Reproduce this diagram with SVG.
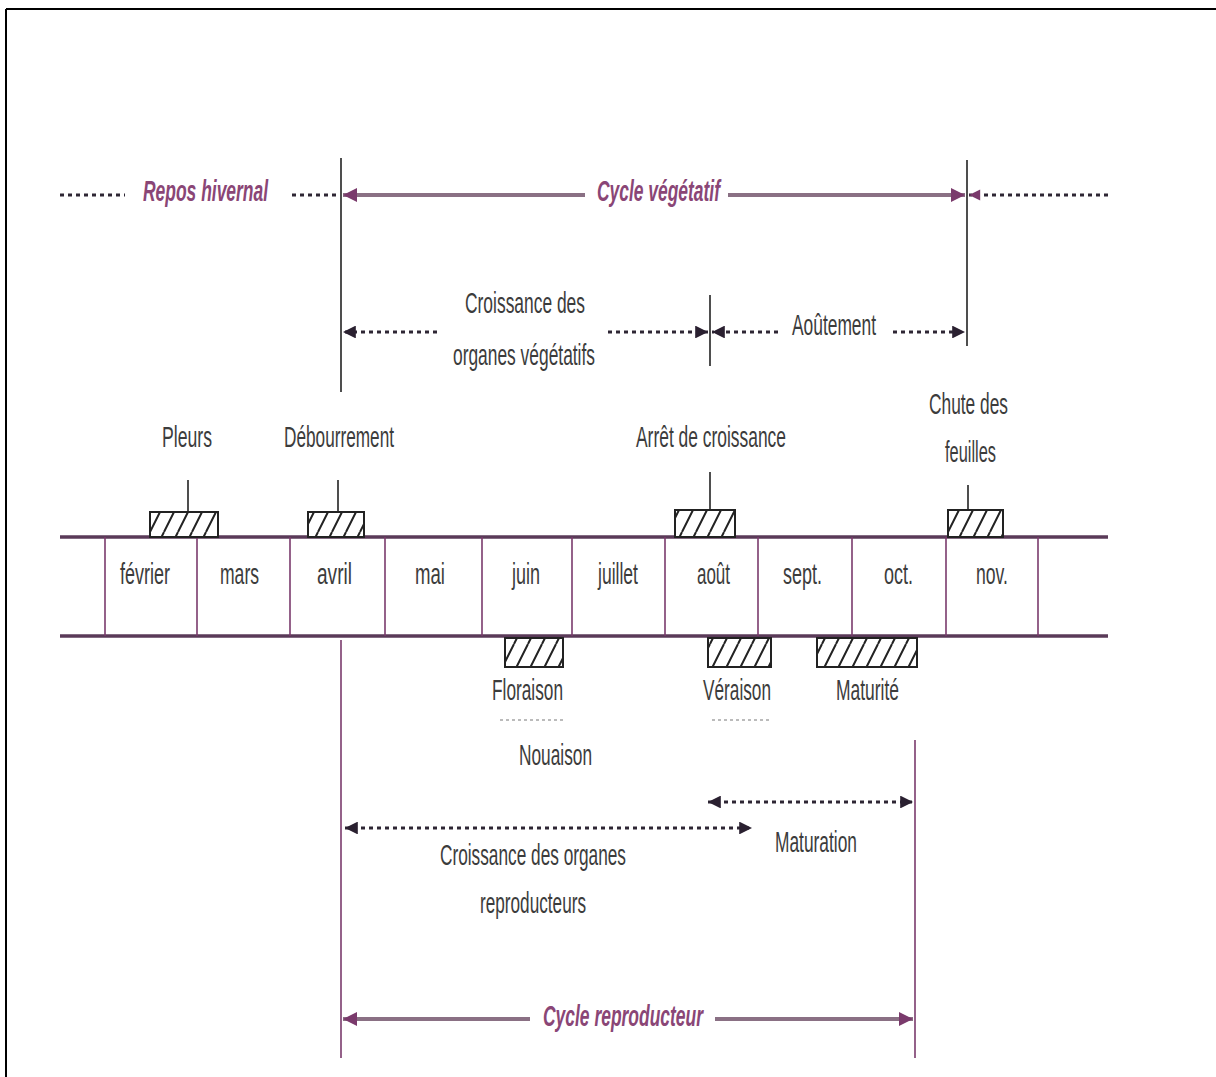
<svg xmlns="http://www.w3.org/2000/svg" width="1216" height="1077" viewBox="0 0 1216 1077">
<style>
  text { font-family: "Liberation Sans Narrow", "Liberation Sans", Arial, sans-serif; fill: #3c3c3c; font-size: 30px; text-anchor: start; }
  .title { fill: #8a4676; font-style: italic; font-weight: bold; font-size: 29px; }
  .dot { stroke: #2e2634; stroke-width: 3.2; stroke-dasharray: 4 4; fill: none; }
  .solid { stroke: #8a7084; stroke-width: 4; fill: none; }
  .vblack { stroke: #222; stroke-width: 1.6; fill: none; }
  .vpurple { stroke: #7a3a6c; stroke-width: 1.6; fill: none; }
  .band { stroke: #5a3a58; stroke-width: 3.5; fill: none; }
  .div { stroke: #7a3a6c; stroke-width: 1.6; fill: none; }
  .hatch { fill: url(#hp); stroke: #222; stroke-width: 2; }
  .tick { stroke: #222; stroke-width: 1.6; }
  .faint { stroke: #bbb; stroke-width: 2; stroke-dasharray: 3 3; fill: none; }
</style>
<defs>
  <pattern id="hp" patternUnits="userSpaceOnUse" width="14" height="28">
    <rect width="14" height="28" fill="#fff"/>
    <path d="M-4 28 L10 0 M10 28 L24 0" stroke="#222" stroke-width="2"/>
  </pattern>
  <marker id="ah" viewBox="0 0 10 10" refX="10" refY="5" markerWidth="5" markerHeight="4" orient="auto-start-reverse" markerUnits="strokeWidth">
    <path d="M0 0 L10 5 L0 10 Z" fill="#2a2030"/>
  </marker>
  <marker id="ahp" viewBox="0 0 10 10" refX="10" refY="5" markerWidth="4" markerHeight="3.5" orient="auto-start-reverse" markerUnits="strokeWidth">
    <path d="M0 0 L10 5 L0 10 Z" fill="#7a3a6c"/>
  </marker>
</defs>
<rect width="1216" height="1077" fill="#fff"/>
<g id="frame">
  <line x1="6" y1="9" x2="1216" y2="9" stroke="#000" stroke-width="2"/>
  <line x1="6" y1="9" x2="6" y2="1077" stroke="#000" stroke-width="2"/>
</g>

<g id="connectors">
  <line class="vblack" x1="341" y1="158" x2="341" y2="392"/>
  <line class="vpurple" x1="341" y1="640" x2="341" y2="1058"/>
  <line class="vblack" x1="967" y1="160" x2="967" y2="346"/>
  <line class="vblack" x1="710" y1="295" x2="710" y2="366"/>
  <line class="vpurple" x1="915" y1="740" x2="915" y2="1058"/>
  <line class="dot" x1="60" y1="195" x2="125" y2="195"/>
  <line class="dot" x1="292" y1="195" x2="336" y2="195"/>
  <line class="solid" x1="585" y1="195" x2="343" y2="195" marker-end="url(#ahp)"/>
  <line class="solid" x1="728" y1="195" x2="965" y2="195" marker-end="url(#ahp)"/>
  <line class="dot" x1="1108" y1="195" x2="969" y2="195" marker-end="url(#ahp)"/>
  <line class="dot" x1="437" y1="332" x2="343" y2="332" marker-end="url(#ah)"/>
  <line class="dot" x1="608" y1="332" x2="708" y2="332" marker-end="url(#ah)"/>
  <line class="dot" x1="778" y1="332" x2="712" y2="332" marker-end="url(#ah)"/>
  <line class="dot" x1="893" y1="332" x2="965" y2="332" marker-end="url(#ah)"/>
  <line class="tick" x1="188" y1="480" x2="188" y2="512"/>
  <line class="tick" x1="338" y1="480" x2="338" y2="512"/>
  <line class="tick" x1="710" y1="472" x2="710" y2="512"/>
  <line class="tick" x1="968" y1="485" x2="968" y2="512"/>
  <line class="faint" x1="500" y1="720" x2="565" y2="720"/>
  <line class="faint" x1="712" y1="720" x2="770" y2="720"/>
  <line class="dot" x1="345" y1="828" x2="752" y2="828" marker-start="url(#ah)" marker-end="url(#ah)"/>
  <line class="dot" x1="708" y1="802" x2="913" y2="802" marker-start="url(#ah)" marker-end="url(#ah)"/>
  <line class="solid" x1="530" y1="1019" x2="343" y2="1019" marker-end="url(#ahp)"/>
  <line class="solid" x1="715" y1="1019" x2="913" y2="1019" marker-end="url(#ahp)"/>
</g>

<g id="band">
  <line class="band" x1="60" y1="537" x2="1108" y2="537"/>
  <line class="band" x1="60" y1="636" x2="1108" y2="636"/>
  <g class="div">
    <line x1="105" y1="537" x2="105" y2="636"/>
    <line x1="197" y1="537" x2="197" y2="636"/>
    <line x1="290" y1="537" x2="290" y2="636"/>
    <line x1="385" y1="537" x2="385" y2="636"/>
    <line x1="482" y1="537" x2="482" y2="636"/>
    <line x1="572" y1="537" x2="572" y2="636"/>
    <line x1="665" y1="537" x2="665" y2="636"/>
    <line x1="758" y1="537" x2="758" y2="636"/>
    <line x1="852" y1="537" x2="852" y2="636"/>
    <line x1="946" y1="537" x2="946" y2="636"/>
    <line x1="1038" y1="537" x2="1038" y2="636"/>
  </g>
  <text x="120" y="584" textLength="50" lengthAdjust="spacingAndGlyphs">février</text>
  <text x="220" y="584" textLength="39" lengthAdjust="spacingAndGlyphs">mars</text>
  <text x="317" y="584" textLength="35" lengthAdjust="spacingAndGlyphs">avril</text>
  <text x="415" y="584" textLength="30" lengthAdjust="spacingAndGlyphs">mai</text>
  <text x="512" y="584" textLength="28" lengthAdjust="spacingAndGlyphs">juin</text>
  <text x="598" y="584" textLength="40" lengthAdjust="spacingAndGlyphs">juillet</text>
  <text x="697" y="584" textLength="33" lengthAdjust="spacingAndGlyphs">août</text>
  <text x="783" y="584" textLength="39" lengthAdjust="spacingAndGlyphs">sept.</text>
  <text x="884" y="584" textLength="29" lengthAdjust="spacingAndGlyphs">oct.</text>
  <text x="976" y="584" textLength="32" lengthAdjust="spacingAndGlyphs">nov.</text>
</g>

<g id="repos-hivernal"><text class="title" x="143" y="201" textLength="125" lengthAdjust="spacingAndGlyphs">Repos hivernal</text></g>
<g id="cycle-vegetatif"><text class="title" x="597" y="201" textLength="123" lengthAdjust="spacingAndGlyphs">Cycle végétatif</text></g>
<g id="croissance-vegetatifs">
  <text x="465" y="313" textLength="120" lengthAdjust="spacingAndGlyphs">Croissance des</text>
  <text x="453" y="365" textLength="142" lengthAdjust="spacingAndGlyphs">organes végétatifs</text>
</g>
<g id="aoutement"><text x="792" y="335" textLength="84" lengthAdjust="spacingAndGlyphs">Aoûtement</text></g>

<g id="pleurs">
  <text x="162" y="447" textLength="50" lengthAdjust="spacingAndGlyphs">Pleurs</text>
  <rect class="hatch" x="150" y="512" width="68" height="25"/>
</g>
<g id="debourrement">
  <text x="284" y="447" textLength="110" lengthAdjust="spacingAndGlyphs">Débourrement</text>
  <rect class="hatch" x="308" y="512" width="56" height="25"/>
</g>
<g id="arret-croissance">
  <text x="636" y="447" textLength="150" lengthAdjust="spacingAndGlyphs">Arrêt de croissance</text>
  <rect class="hatch" x="675" y="510" width="60" height="27"/>
</g>
<g id="chute-feuilles">
  <text x="929" y="414" textLength="79" lengthAdjust="spacingAndGlyphs">Chute des</text>
  <text x="945" y="462" textLength="51" lengthAdjust="spacingAndGlyphs">feuilles</text>
  <rect class="hatch" x="948" y="510" width="55" height="27"/>
</g>

<g id="floraison">
  <rect class="hatch" x="505" y="638" width="58" height="29"/>
  <text x="492" y="700" textLength="71" lengthAdjust="spacingAndGlyphs">Floraison</text>
</g>
<g id="nouaison"><text x="519" y="765" textLength="73" lengthAdjust="spacingAndGlyphs">Nouaison</text></g>
<g id="veraison">
  <rect class="hatch" x="708" y="638" width="63" height="29"/>
  <text x="703" y="700" textLength="68" lengthAdjust="spacingAndGlyphs">Véraison</text>
</g>
<g id="maturite">
  <rect class="hatch" x="817" y="638" width="100" height="29"/>
  <text x="836" y="700" textLength="63" lengthAdjust="spacingAndGlyphs">Maturité</text>
</g>

<g id="maturation"><text x="775" y="852" textLength="82" lengthAdjust="spacingAndGlyphs">Maturation</text></g>
<g id="croissance-reproducteurs">
  <text x="440" y="865" textLength="186" lengthAdjust="spacingAndGlyphs">Croissance des organes</text>
  <text x="480" y="913" textLength="106" lengthAdjust="spacingAndGlyphs">reproducteurs</text>
</g>
<g id="cycle-reproducteur"><text class="title" x="543" y="1026" textLength="160" lengthAdjust="spacingAndGlyphs">Cycle reproducteur</text></g>
</svg>
